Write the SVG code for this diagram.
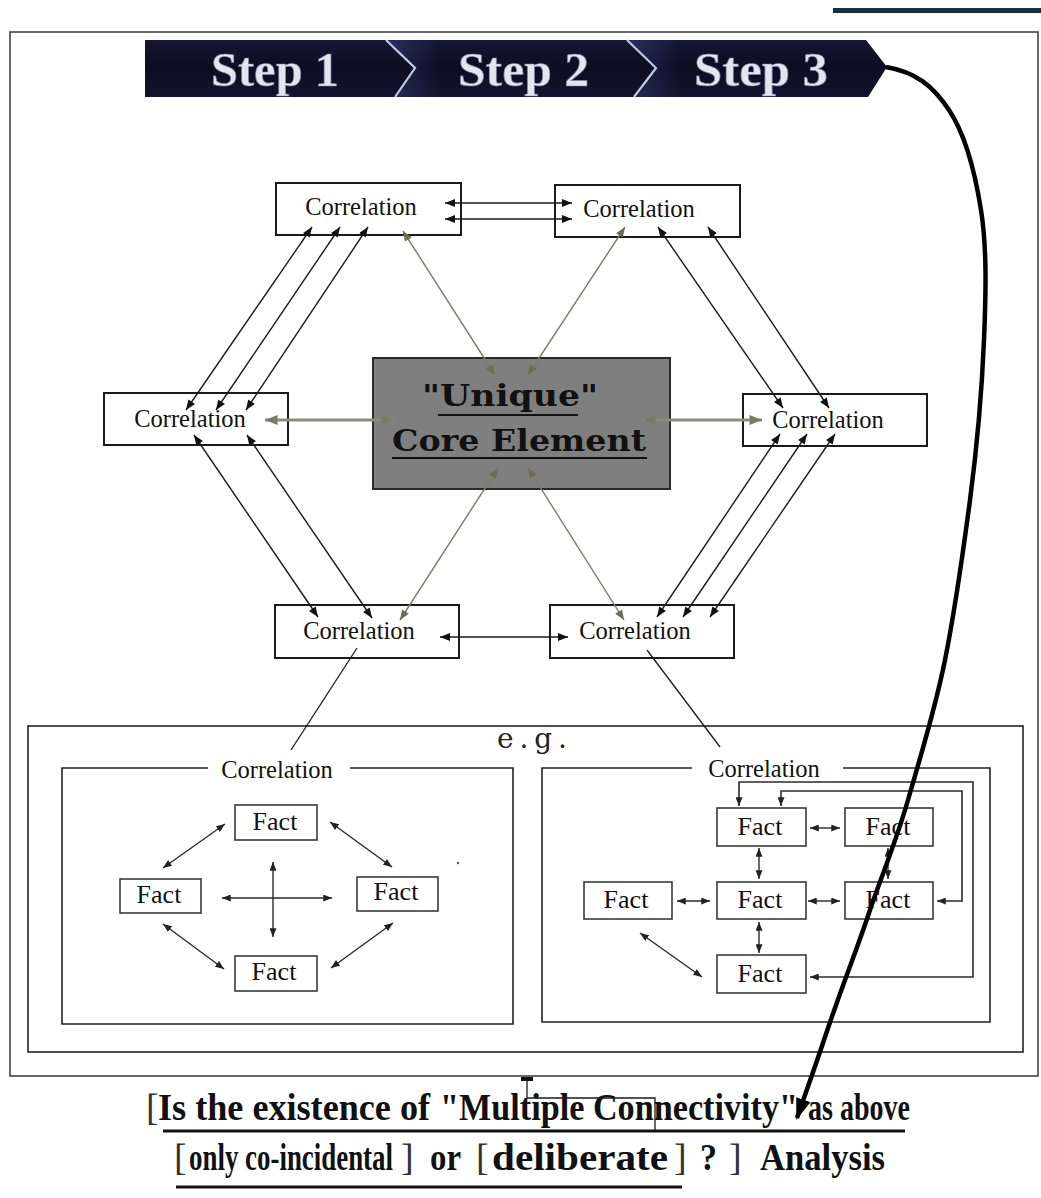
<svg xmlns="http://www.w3.org/2000/svg" width="1041" height="1198" viewBox="0 0 1041 1198">
  <style>
    .box { fill: #ffffff; stroke: #1a1a1a; stroke-width: 2; }
    .fact { fill: #ffffff; stroke: #3a3a3a; stroke-width: 1.6; }
    .frame { fill: none; stroke: #222; stroke-width: 1.6; }
    .lbl { font-family: "Liberation Serif", "Times New Roman", serif; font-size: 24.5px; fill: #111; text-anchor: middle; }
    .flbl { font-family: "Liberation Serif", "Times New Roman", serif; font-size: 26px; fill: #111; text-anchor: middle; }
    .core { font-family: "DejaVu Serif", "Liberation Serif", serif; font-weight: bold; font-size: 30px; fill: #111; }
    .step { font-family: "Liberation Serif", "Times New Roman", serif; font-weight: bold; font-size: 48px; fill: #e4e6ef; stroke: #7c83a0; stroke-width: 0.7; }
    .cap { font-family: "Liberation Serif", "Times New Roman", serif; font-weight: bold; font-size: 38px; fill: #111; }
    .capthin { font-family: "Liberation Serif", "Times New Roman", serif; font-weight: normal; font-size: 38px; fill: #333; }
    .blk { fill: none; stroke: #1a1a1a; stroke-width: 1.4; marker-start: url(#ah); marker-end: url(#ah); }
    .gry { fill: none; stroke: #7b7b68; stroke-width: 1.4; marker-start: url(#ahg); marker-end: url(#ahg); }
    .gryw { fill: none; stroke: #8c8c7c; stroke-width: 3; marker-start: url(#ahgw); marker-end: url(#ahgw); }
    .sm { fill: none; stroke: #2a2a2a; stroke-width: 1.4; marker-start: url(#ahs); marker-end: url(#ahs); }
    .route { fill: none; stroke: #2a2a2a; stroke-width: 1.6; }
    .tie { fill: none; stroke: #1a1a1a; stroke-width: 1.3; }
  </style>
  <defs>
    <marker id="ah" viewBox="0 0 10 8" refX="10" refY="4" markerWidth="11" markerHeight="8" markerUnits="userSpaceOnUse" orient="auto-start-reverse">
      <path d="M0,0 L10,4 L0,8 z" fill="#111"/>
    </marker>
    <marker id="ahg" viewBox="0 0 10 8" refX="10" refY="4" markerWidth="11" markerHeight="8" markerUnits="userSpaceOnUse" orient="auto-start-reverse">
      <path d="M0,0 L10,4 L0,8 z" fill="#6c6c58"/>
    </marker>
    <marker id="ahgw" viewBox="0 0 10 8" refX="10" refY="4" markerWidth="13" markerHeight="10" markerUnits="userSpaceOnUse" orient="auto-start-reverse">
      <path d="M0,0 L10,4 L0,8 z" fill="#7a7a6a"/>
    </marker>
    <marker id="ahs" viewBox="0 0 10 8" refX="10" refY="4" markerWidth="9" markerHeight="7" markerUnits="userSpaceOnUse" orient="auto-start-reverse">
      <path d="M0,0 L10,4 L0,8 z" fill="#222"/>
    </marker>
    <marker id="ahbig" viewBox="0 0 20 14" refX="18" refY="7" markerWidth="22" markerHeight="15" markerUnits="userSpaceOnUse" orient="auto">
      <path d="M0,0 L20,7 L0,14 z" fill="#000"/>
    </marker>
    <linearGradient id="bannerFill" x1="0" y1="0" x2="0" y2="1">
      <stop offset="0" stop-color="#161634"/>
      <stop offset="0.5" stop-color="#0c0c22"/>
      <stop offset="1" stop-color="#141430"/>
    </linearGradient>
    <linearGradient id="glow" x1="0" y1="0" x2="1" y2="0">
      <stop offset="0" stop-color="#3c4f8a" stop-opacity="0.45"/>
      <stop offset="1" stop-color="#3c4f8a" stop-opacity="0"/>
    </linearGradient>
  </defs>

  <rect width="1041" height="1198" fill="#ffffff"/>

  <!-- page rule and outer frame -->
  <rect x="833" y="8" width="208" height="5" fill="#1d2d40"/>
  <rect x="10" y="32" width="1028" height="1044" fill="none" stroke="#444" stroke-width="1.6"/>

  <!-- step banner -->
  <g id="banner">
    <path d="M145,40 H866 L887,67 L868,97 H145 Z" fill="url(#bannerFill)"/>
    <path d="M388,40 L416,68 L396,97 L440,97 L440,40 Z" fill="url(#glow)"/>
    <path d="M629,40 L657,68 L637,97 L680,97 L680,40 Z" fill="url(#glow)"/>
    <polyline points="386,40 415,68 395,97" fill="none" stroke="#c3cbe4" stroke-width="2.2"/>
    <polyline points="627,40 656,68 634,97" fill="none" stroke="#c3cbe4" stroke-width="2.2"/>
    <text class="step" x="211" y="86" textLength="128" lengthAdjust="spacingAndGlyphs">Step 1</text>
    <text class="step" x="458" y="86" textLength="131" lengthAdjust="spacingAndGlyphs">Step 2</text>
    <text class="step" x="694" y="86" textLength="134" lengthAdjust="spacingAndGlyphs">Step 3</text>
  </g>

  <!-- correlation hexagon around the core element -->
  <g id="core">
    <rect x="373" y="358" width="297" height="131" fill="#7f7f7f" stroke="#2a2a2a" stroke-width="2"/>
    <text class="core" x="422" y="406" textLength="176" lengthAdjust="spacingAndGlyphs">"Unique"</text>
    <line x1="438" y1="415" x2="578" y2="415" stroke="#111" stroke-width="2.2"/>
    <text class="core" x="392" y="451" textLength="254" lengthAdjust="spacingAndGlyphs">Core Element</text>
    <line x1="392" y1="458" x2="647" y2="458" stroke="#111" stroke-width="2.2"/>
  </g>
  <g id="corr-top-left">
    <rect class="box" x="276" y="183" width="185" height="52"/>
    <text class="lbl" x="361" y="215">Correlation</text>
  </g>
  <g id="corr-top-right">
    <rect class="box" x="555" y="185" width="185" height="52"/>
    <text class="lbl" x="639" y="217">Correlation</text>
  </g>
  <g id="corr-left">
    <rect class="box" x="104" y="393" width="184" height="52"/>
    <text class="lbl" x="190" y="427">Correlation</text>
  </g>
  <g id="corr-right">
    <rect class="box" x="743" y="394" width="184" height="52"/>
    <text class="lbl" x="828" y="428">Correlation</text>
  </g>
  <g id="corr-bottom-left">
    <rect class="box" x="275" y="605" width="184" height="53"/>
    <text class="lbl" x="359" y="639">Correlation</text>
  </g>
  <g id="corr-bottom-right">
    <rect class="box" x="550" y="605" width="184" height="53"/>
    <text class="lbl" x="635" y="639">Correlation</text>
  </g>

  <!-- example panel -->
  <g id="example">
    <rect class="frame" x="28" y="726" width="995" height="326"/>
    <text x="497" y="748" font-family="DejaVu Serif, serif" font-size="28" fill="#222" textLength="70">e.g.</text>
  </g>
  <g id="example-left">
    <path class="frame" d="M208,768 H62 V1024 H513 V768 H350"/>
    <text class="lbl" x="277" y="778" font-size="25">Correlation</text>
    <g id="fl-top"><rect class="fact" x="235" y="805" width="82" height="35"/><text class="flbl" x="275" y="830">Fact</text></g>
    <g id="fl-left"><rect class="fact" x="120" y="879" width="81" height="34"/><text class="flbl" x="159" y="903">Fact</text></g>
    <g id="fl-right"><rect class="fact" x="357" y="877" width="81" height="34"/><text class="flbl" x="396" y="900">Fact</text></g>
    <g id="fl-bottom"><rect class="fact" x="235" y="956" width="82" height="35"/><text class="flbl" x="274" y="980">Fact</text></g>
    <circle cx="458" cy="863" r="1.2" fill="#555"/>
  </g>
  <g id="example-right">
    <path class="frame" d="M692,768 H542 V1022 H990 V768 H843"/>
    <text class="lbl" x="764" y="777" font-size="25">Correlation</text>
    <g id="fr-top"><rect class="fact" x="717" y="808" width="89" height="38"/><text class="flbl" x="760" y="835" font-size="29">Fact</text></g>
    <g id="fr-top-right"><rect class="fact" x="845" y="808" width="88" height="38"/><text class="flbl" x="888" y="835" font-size="29">Fact</text></g>
    <g id="fr-left"><rect class="fact" x="584" y="882" width="88" height="37"/><text class="flbl" x="626" y="908" font-size="29">Fact</text></g>
    <g id="fr-mid"><rect class="fact" x="717" y="882" width="89" height="37"/><text class="flbl" x="760" y="908" font-size="29">Fact</text></g>
    <g id="fr-mid-right"><rect class="fact" x="845" y="882" width="88" height="37"/><text class="flbl" x="888" y="908" font-size="29">Fact</text></g>
    <g id="fr-bottom"><rect class="fact" x="717" y="955" width="89" height="38"/><text class="flbl" x="760" y="982" font-size="29">Fact</text></g>
  </g>

  <!-- caption -->
  <g id="caption">
    <text class="capthin" x="146" y="1120">[</text>
    <text class="cap" x="158" y="1120" textLength="272" lengthAdjust="spacingAndGlyphs">Is the existence of</text>
    <text class="cap" x="440" y="1120" textLength="358" lengthAdjust="spacingAndGlyphs">"Multiple Connectivity"</text>
    <text class="cap" x="808" y="1120" textLength="102" lengthAdjust="spacingAndGlyphs">as above</text>
    <line x1="163" y1="1131" x2="905" y2="1131" stroke="#111" stroke-width="3"/>
    <text class="capthin" x="174" y="1170">[</text>
    <text class="cap" x="189" y="1170" textLength="204" lengthAdjust="spacingAndGlyphs">only co-incidental</text>
    <text class="capthin" x="401" y="1170">]</text>
    <text class="cap" x="430" y="1170" textLength="31" lengthAdjust="spacingAndGlyphs">or</text>
    <text class="capthin" x="476" y="1170">[</text>
    <text class="cap" x="492" y="1170" textLength="176" lengthAdjust="spacingAndGlyphs">deliberate</text>
    <text class="capthin" x="674" y="1170">]</text>
    <text class="cap" x="700" y="1170" textLength="17" lengthAdjust="spacingAndGlyphs">?</text>
    <text class="capthin" x="729" y="1170">]</text>
    <text class="cap" x="760" y="1170" textLength="125" lengthAdjust="spacingAndGlyphs">Analysis</text>
    <line x1="176" y1="1187" x2="682" y2="1187" stroke="#111" stroke-width="3"/>
  </g>

  <!-- connectors -->
  <g id="connectors">
    <!-- top pair -->
    <line class="blk" x1="445" y1="203" x2="572" y2="203" stroke-width="1.8"/>
    <line class="blk" x1="445" y1="219" x2="572" y2="219" stroke-width="1.8"/>
    <!-- top-left to left -->
    <line class="blk" x1="312" y1="227" x2="186" y2="410"/>
    <line class="blk" x1="340" y1="227" x2="216" y2="410"/>
    <line class="blk" x1="368" y1="227" x2="246" y2="410"/>
    <!-- top-right to right -->
    <line class="blk" x1="658" y1="227" x2="783" y2="408"/>
    <line class="blk" x1="708" y1="227" x2="829" y2="408"/>
    <!-- left to bottom-left -->
    <line class="blk" x1="194" y1="435" x2="318" y2="617"/>
    <line class="blk" x1="247" y1="435" x2="372" y2="618"/>
    <!-- right to bottom-right -->
    <line class="blk" x1="780" y1="434" x2="657" y2="617"/>
    <line class="blk" x1="807" y1="434" x2="683" y2="617"/>
    <line class="blk" x1="835" y1="434" x2="710" y2="617"/>
    <!-- bottom pair -->
    <line class="blk" x1="440" y1="637" x2="568" y2="637" stroke-width="2.6"/>
    <!-- spokes to the core -->
    <line class="gry" x1="403" y1="231" x2="495" y2="375"/>
    <line class="gry" x1="625" y1="227" x2="528" y2="375"/>
    <line class="gry" x1="400" y1="620" x2="498" y2="468"/>
    <line class="gry" x1="624" y1="620" x2="528" y2="468"/>
    <line class="gryw" x1="265" y1="420" x2="394" y2="420"/>
    <line class="gryw" x1="643" y1="420" x2="762" y2="420"/>
    <!-- ties to the example -->
    <line class="tie" x1="357" y1="648" x2="291" y2="750"/>
    <line class="tie" x1="647" y1="650" x2="720" y2="747"/>
    <!-- left example -->
    <line class="sm" x1="163" y1="868" x2="225" y2="824"/>
    <line class="sm" x1="330" y1="822" x2="392" y2="867"/>
    <line class="sm" x1="163" y1="924" x2="224" y2="969"/>
    <line class="sm" x1="393" y1="923" x2="331" y2="968"/>
    <line class="sm" x1="222" y1="898" x2="332" y2="898"/>
    <line class="sm" x1="273" y1="862" x2="273" y2="937"/>
    <!-- right example -->
    <line class="sm" x1="810" y1="828" x2="840" y2="828" stroke-width="1.8"/>
    <line class="sm" x1="677" y1="901" x2="710" y2="901" stroke-width="1.8"/>
    <line class="sm" x1="808" y1="901" x2="840" y2="901" stroke-width="1.8"/>
    <line class="sm" x1="759" y1="848" x2="759" y2="879" stroke-width="1.8"/>
    <line class="sm" x1="759" y1="922" x2="759" y2="953" stroke-width="1.8"/>
    <line class="sm" x1="888" y1="848" x2="888" y2="879" stroke-width="1.8"/>
    <line class="sm" x1="640" y1="933" x2="702" y2="977"/>
    <path class="route" d="M739,806 V782 H973 V977 H810" marker-start="url(#ahs)" marker-end="url(#ahs)"/>
    <path class="route" d="M781,806 V791 H962 V901 H937" marker-start="url(#ahs)" marker-end="url(#ahs)"/>
    <!-- frame to caption -->
    <rect x="521" y="1077" width="12" height="4" fill="#111"/>
    <path class="tie" d="M527,1080 V1098 H655 V1131"/>
    <!-- step 3 to caption -->
    <path d="M886,67 C916,72 933,86 949,110 C965,134 975,172 981,210 C987,248 986,292 984,340 C982,388 977,447 970,500 C963,553 955,610 945,660 C935,710 920,758 908,800 C896,842 880,880 870,910 C860,940 853,958 845,980 C837,1002 832,1016 824,1040 C816,1064 806,1092 797,1118" fill="none" stroke="#000" stroke-width="4.5" marker-end="url(#ahbig)"/>
  </g>
</svg>
